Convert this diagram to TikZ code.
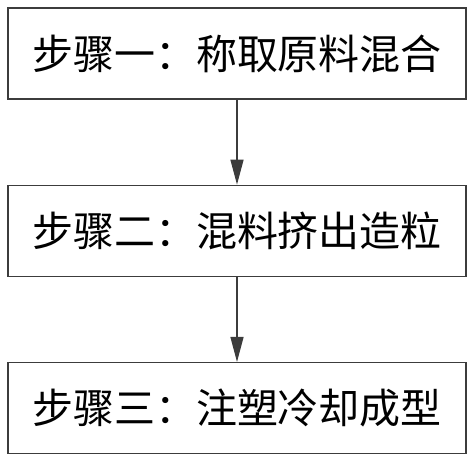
\documentclass[tikz,border=0pt]{standalone}
\usepackage{fontspec}
\newfontfamily\cjk{Noto Sans CJK SC}
\definecolor{linegray}{RGB}{60, 60, 60}
\usetikzlibrary{positioning,arrows.meta}

\begin{document}
\begin{tikzpicture}[node distance=85pt,
    stepbox/.style={rectangle, draw=linegray, line width=1.3pt, minimum width=458pt, minimum height=91pt, inner sep=0pt, font=\cjk\fontsize{41}{48}\selectfont},
    flow/.style={-{Triangle[length=25pt,width=13pt]}, line width=1.3pt, color=linegray}]
    \useasboundingbox (0pt,0pt) rectangle (474pt,-460pt);

    % Steps
    \node[stepbox] (mix) at (237pt,-53.5pt) {步骤一：称取原料混合};
    \node[stepbox, below=of mix] (pellet) {步骤二：混料挤出造粒};
    \node[stepbox, below=of pellet] (mold) {步骤三：注塑冷却成型};

    % Arrows
    \draw[flow] (mix) -- (pellet);
    \draw[flow] (pellet) -- (mold);
\end{tikzpicture}
\end{document}
